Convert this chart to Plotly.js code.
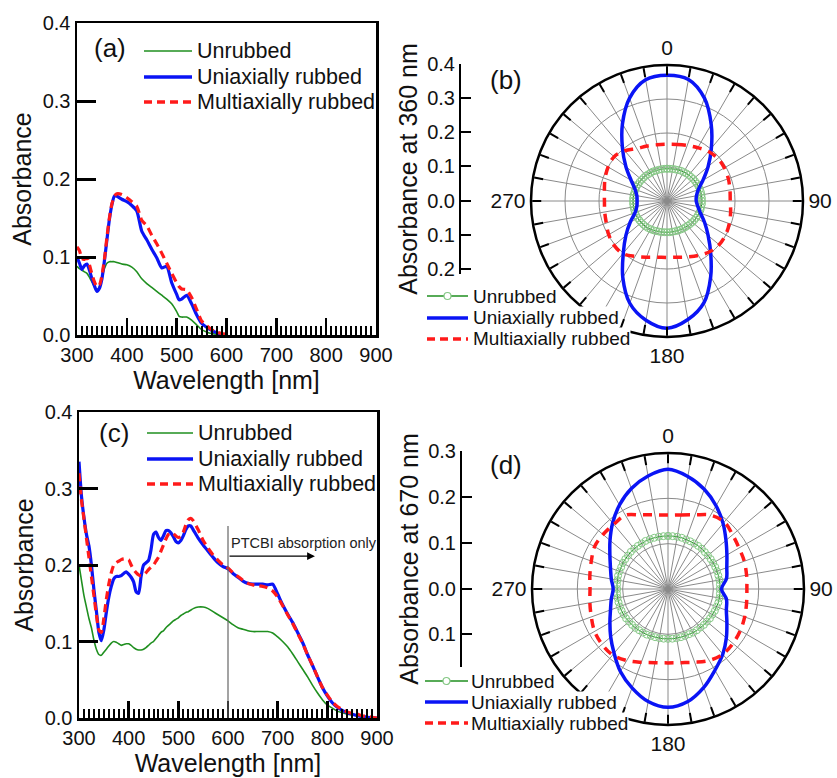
<!DOCTYPE html>
<html>
<head>
<meta charset="utf-8">
<script src="https://cdn.plot.ly/plotly-3.0.1.min.js"></script>
<style>html,body{margin:0;padding:0;background:#fff;}#chart{width:837px;height:778px;}</style>
</head>
<body>
<div id="chart"></div>
<script>
// ---------- Panel (a): absorbance spectra ----------
const waveA = [300,305,310,315,320,325,330,335,340,345,350,355,360,365,370,375,380,390,400,410,420,430,440,450,460,470,480,490,500,505,510,520,530,540,550,560,570,580,590,600];
const unrubbedA = [0.088,0.085,0.083,0.081,0.079,0.074,0.068,0.062,0.058,0.062,0.074,0.085,0.092,0.094,0.094,0.094,0.093,0.091,0.090,0.087,0.081,0.072,0.066,0.061,0.056,0.051,0.046,0.040,0.030,0.024,0.023,0.023,0.019,0.013,0.007,0.004,0.002,0.001,0.0005,0.0];
const uniaxialA = [0.100,0.092,0.084,0.089,0.091,0.083,0.072,0.063,0.056,0.060,0.072,0.095,0.122,0.148,0.167,0.178,0.178,0.174,0.171,0.166,0.159,0.133,0.122,0.110,0.099,0.086,0.088,0.067,0.052,0.045,0.046,0.051,0.040,0.026,0.015,0.010,0.006,0.003,0.001,0.0];
const multiaxialA = [0.113,0.108,0.098,0.097,0.099,0.090,0.078,0.068,0.062,0.064,0.076,0.097,0.125,0.150,0.168,0.178,0.181,0.180,0.176,0.171,0.165,0.147,0.140,0.128,0.117,0.105,0.092,0.079,0.067,0.062,0.059,0.058,0.048,0.033,0.018,0.012,0.007,0.004,0.002,0.001];

// ---------- Panel (c): absorbance spectra ----------
const waveC = [300,305,310,315,320,325,330,335,340,345,350,355,360,365,370,375,380,385,390,395,400,405,410,415,420,425,430,435,440,445,450,455,460,465,470,475,480,485,490,495,500,505,510,515,520,525,530,540,550,560,570,580,590,600,610,620,630,640,650,660,670,680,690,700,710,720,730,740,750,760,770,780,790,800,810,820,830,840,850,860,870,880,890,900];
const unrubbedC = [0.200,0.180,0.160,0.145,0.130,0.118,0.102,0.090,0.083,0.082,0.086,0.090,0.094,0.098,0.100,0.099,0.097,0.095,0.096,0.097,0.097,0.095,0.092,0.090,0.089,0.089,0.090,0.092,0.095,0.098,0.100,0.104,0.108,0.112,0.114,0.118,0.121,0.124,0.127,0.129,0.131,0.134,0.136,0.138,0.139,0.141,0.143,0.145,0.145,0.143,0.139,0.135,0.131,0.127,0.122,0.118,0.116,0.114,0.113,0.113,0.113,0.113,0.111,0.106,0.100,0.093,0.084,0.074,0.064,0.054,0.043,0.033,0.024,0.017,0.013,0.009,0.007,0.005,0.004,0.003,0.002,0.001,0.0005,0.0];
const uniaxialC = [0.335,0.290,0.262,0.240,0.225,0.200,0.168,0.140,0.112,0.101,0.115,0.138,0.158,0.172,0.182,0.185,0.185,0.186,0.189,0.191,0.188,0.184,0.178,0.165,0.163,0.185,0.200,0.203,0.206,0.220,0.240,0.243,0.236,0.232,0.238,0.245,0.245,0.242,0.237,0.231,0.229,0.232,0.238,0.246,0.251,0.251,0.246,0.235,0.226,0.218,0.210,0.203,0.198,0.195,0.189,0.184,0.179,0.176,0.175,0.175,0.175,0.174,0.175,0.162,0.148,0.136,0.125,0.112,0.099,0.083,0.069,0.054,0.040,0.029,0.020,0.014,0.010,0.007,0.005,0.003,0.002,0.001,0.0005,0.0];
const multiaxialC = [0.320,0.285,0.260,0.235,0.210,0.185,0.160,0.135,0.115,0.112,0.130,0.155,0.175,0.190,0.200,0.203,0.205,0.207,0.208,0.208,0.207,0.200,0.194,0.190,0.187,0.186,0.187,0.190,0.194,0.197,0.200,0.205,0.210,0.218,0.226,0.234,0.240,0.242,0.241,0.238,0.236,0.237,0.243,0.252,0.259,0.261,0.258,0.246,0.232,0.222,0.213,0.206,0.200,0.196,0.190,0.185,0.180,0.176,0.174,0.173,0.172,0.170,0.166,0.158,0.147,0.135,0.124,0.111,0.098,0.083,0.069,0.054,0.040,0.030,0.021,0.015,0.011,0.008,0.006,0.005,0.003,0.002,0.001,0.0];

// ---------- Polar panels (b) and (d) ----------
const angles10 = [0,10,20,30,40,50,60,70,80,90,100,110,120,130,140,150,160,170,180,190,200,210,220,230,240,250,260,270,280,290,300,310,320,330,340,350,360];
const angles5 = [0,5,10,15,20,25,30,35,40,45,50,55,60,65,70,75,80,85,90,95,100,105,110,115,120,125,130,135,140,145,150,155,160,165,170,175,180,185,190,195,200,205,210,215,220,225,230,235,240,245,250,255,260,265,270,275,280,285,290,295,300,305,310,315,320,325,330,335,340,345,350,355,360];

const unrubbedB = [0.095,0.095,0.096,0.096,0.097,0.098,0.098,0.099,0.100,0.100,0.101,0.101,0.102,0.102,0.103,0.103,0.103,0.103,0.103,0.103,0.102,0.102,0.101,0.100,0.099,0.098,0.097,0.096,0.095,0.094,0.094,0.093,0.093,0.092,0.092,0.092,0.092,0.092,0.093,0.093,0.094,0.095,0.096,0.097,0.098,0.098,0.099,0.099,0.100,0.100,0.100,0.100,0.100,0.100,0.100,0.100,0.100,0.099,0.099,0.099,0.098,0.098,0.097,0.097,0.097,0.096,0.096,0.096,0.095,0.095,0.095,0.095,0.095];
const uniaxialB = [0.370,0.363,0.322,0.260,0.203,0.158,0.122,0.098,0.088,0.086,0.092,0.105,0.128,0.158,0.200,0.257,0.318,0.354,0.374,0.356,0.320,0.260,0.200,0.158,0.125,0.100,0.090,0.088,0.090,0.100,0.122,0.158,0.204,0.262,0.322,0.362,0.370];
const multiaxialB = [0.167,0.169,0.174,0.181,0.190,0.195,0.195,0.192,0.188,0.186,0.190,0.195,0.199,0.200,0.195,0.185,0.175,0.168,0.166,0.168,0.176,0.188,0.202,0.203,0.198,0.190,0.186,0.184,0.187,0.194,0.200,0.203,0.193,0.178,0.172,0.168,0.167];

const unrubbedD = [0.117,0.117,0.117,0.117,0.116,0.116,0.116,0.116,0.116,0.115,0.115,0.115,0.115,0.115,0.115,0.115,0.115,0.115,0.114,0.115,0.115,0.115,0.114,0.114,0.113,0.113,0.112,0.112,0.111,0.111,0.111,0.110,0.110,0.110,0.110,0.110,0.110,0.110,0.110,0.110,0.110,0.111,0.111,0.111,0.112,0.112,0.112,0.113,0.113,0.113,0.113,0.113,0.113,0.113,0.112,0.113,0.113,0.114,0.114,0.114,0.115,0.115,0.115,0.116,0.116,0.116,0.116,0.117,0.117,0.117,0.117,0.117,0.117];
const uniaxialD = [0.264,0.252,0.234,0.212,0.189,0.167,0.150,0.138,0.131,0.118,0.131,0.137,0.150,0.168,0.188,0.207,0.231,0.252,0.261,0.252,0.232,0.210,0.185,0.165,0.148,0.135,0.127,0.121,0.127,0.135,0.148,0.167,0.190,0.214,0.236,0.253,0.264];
const multiaxialD = [0.163,0.166,0.174,0.188,0.193,0.186,0.181,0.179,0.176,0.174,0.176,0.180,0.184,0.187,0.188,0.182,0.172,0.165,0.163,0.165,0.172,0.182,0.190,0.190,0.187,0.180,0.175,0.172,0.175,0.180,0.187,0.187,0.186,0.188,0.174,0.166,0.163];

// ---------- Labels ----------
const seriesNames = ['Unrubbed','Uniaxially rubbed','Multiaxially rubbed'];
const angTickVals = [0,10,20,30,40,50,60,70,80,90,100,110,120,130,140,150,160,170,180,190,200,210,220,230,240,250,260,270,280,290,300,310,320,330,340,350];
const angTickText = ['0','','','','','','','','','90','','','','','','','','','180','','','','','','','','','270','','','','','','','','',''];
const radialTickValsB = [-0.2,-0.1,0,0.1,0.2,0.3,0.4];
const radialTickTextB = ['0.2','0.1','0.0','0.1','0.2','0.3','0.4'];
const radialTickValsD = [-0.1,0,0.1,0.2,0.3];
const radialTickTextD = ['0.1','0.0','0.1','0.2','0.3'];
const cutoffWave = 600;
const arrowEndWave = 775;
const arrowLevel = 0.2115;
const cutoffTop = 0.251;

// ---------- Styling ----------
const FONT = 'Liberation Sans, Arial, sans-serif';
const GREEN = '#1f8f1f', BLUE = '#0a14f5', RED = '#ff1a1a', LIGHTGREEN = '#86c886';
const W = 837, H = 778;
const px = v => v / W;
const py = v => 1 - v / H;

const traces = [];
function spectra(x, g, b, r, xa, ya) {
  traces.push({type:'scatter', mode:'lines', x:x, y:g, name:seriesNames[0], xaxis:xa, yaxis:ya, showlegend:false,
    line:{color:GREEN, width:1.6, shape:'spline', smoothing:0.6}});
  traces.push({type:'scatter', mode:'lines', x:x, y:b, name:seriesNames[1], xaxis:xa, yaxis:ya, showlegend:false,
    line:{color:BLUE, width:3.2, shape:'spline', smoothing:0.6}});
  traces.push({type:'scatter', mode:'lines', x:x, y:r, name:seriesNames[2], xaxis:xa, yaxis:ya, showlegend:false,
    line:{color:RED, width:3.2, dash:'8px,5px', shape:'spline', smoothing:0.6}});
}
spectra(waveA, unrubbedA, uniaxialA, multiaxialA, 'x', 'y');
spectra(waveC, unrubbedC, uniaxialC, multiaxialC, 'x2', 'y2');

function polarSet(g, b, r, sub) {
  traces.push({type:'scatterpolar', mode:'lines+markers', theta:angles5, r:g, name:seriesNames[0], subplot:sub, showlegend:false,
    line:{color:GREEN, width:1}, marker:{symbol:'circle-open', size:7, color:LIGHTGREEN, line:{width:1, color:LIGHTGREEN}}});
  traces.push({type:'scatterpolar', mode:'lines', theta:angles10, r:b, name:seriesNames[1], subplot:sub, showlegend:false,
    line:{color:BLUE, width:3.5, shape:'spline'}});
  traces.push({type:'scatterpolar', mode:'lines', theta:angles10, r:r, name:seriesNames[2], subplot:sub, showlegend:false,
    line:{color:RED, width:3.5, dash:'9px,7px', shape:'spline'}});
}
polarSet(unrubbedB, uniaxialB, multiaxialB, 'polar');
polarSet(unrubbedD, uniaxialD, multiaxialD, 'polar2');

// empty carriers so the radial scale axes are drawn
traces.push({type:'scatter', x:[], y:[], xaxis:'x3', yaxis:'y3', showlegend:false});
traces.push({type:'scatter', x:[], y:[], xaxis:'x4', yaxis:'y4', showlegend:false});

function specX(domain, anchor) {
  return {domain:domain, anchor:anchor, range:[300,900], tickvals:[300,400,500,600,700,800,900],
    ticks:'inside', ticklen:17, tickwidth:2.5, tickcolor:'#000',
    minor:{dtick:10, ticks:'inside', ticklen:9, tickwidth:2, tickcolor:'#000', showgrid:false},
    showline:true, linewidth:2.5, linecolor:'#000', mirror:true, showgrid:false, zeroline:false,
    tickfont:{family:FONT, size:20, color:'#111'},
    title:{text:'Wavelength [nm]', font:{family:FONT, size:25, color:'#111'}, standoff:2}};
}
function specY(domain, anchor) {
  return {domain:domain, anchor:anchor, range:[0,0.4], tickvals:[0,0.1,0.2,0.3,0.4], tickformat:'.1f',
    ticks:'inside', ticklen:19, tickwidth:3, tickcolor:'#000',
    showline:true, linewidth:2.5, linecolor:'#000', mirror:true, showgrid:false, zeroline:false,
    tickfont:{family:FONT, size:20, color:'#111'},
    title:{text:'Absorbance', font:{family:FONT, size:25, color:'#111'}, standoff:4}};
}
function polarLayout(dx, dy, rmax, rgrid) {
  return {domain:{x:dx, y:dy}, bgcolor:'#fff',
    radialaxis:{range:[0,rmax], tickvals:rgrid, showticklabels:false, ticks:'', showline:false,
      gridcolor:'#8a8a8a', gridwidth:1},
    angularaxis:{rotation:90, direction:'clockwise', tickvals:angTickVals, ticktext:angTickText,
      ticks:'inside', ticklen:9, tickwidth:2, tickcolor:'#000', showline:true, linecolor:'#000', linewidth:2.5,
      gridcolor:'#8a8a8a', gridwidth:1, tickfont:{family:FONT, size:21, color:'#111'}}};
}
function scaleAxis(domain, range, vals, text, title, anchor) {
  return {domain:domain, anchor:anchor, range:range, tickvals:vals, ticktext:text,
    ticks:'inside', ticklen:10, tickwidth:2, tickcolor:'#000', showline:true, linewidth:2, linecolor:'#000',
    showgrid:false, zeroline:false, tickfont:{family:FONT, size:20, color:'#111'},
    title:{text:title, font:{family:FONT, size:25, color:'#111'}, standoff:2}};
}

// ---------- Hand-placed legend keys (pixel positions) ----------
const shapes = [
  {type:'line', xref:'x2', yref:'y2', x0:cutoffWave, x1:cutoffWave, y0:0, y1:cutoffTop, line:{color:'#666', width:1.2}}
];
const annotations = [];
function legendKey(x0, x1, textX, rows, size, withMarker, bg) {
  const styles = [
    {color:GREEN, width:withMarker ? 1.5 : 1.6},
    {color:BLUE, width:3.5},
    {color:RED, width:3.5, dash:'8px,5px'}
  ];
  rows.forEach((row, i) => {
    shapes.push({type:'line', xref:'paper', yref:'paper', x0:px(x0), x1:px(x1), y0:py(row), y1:py(row), line:styles[i], layer:'above'});
    annotations.push({xref:'paper', yref:'paper', x:px(textX), y:py(row), text:seriesNames[i], showarrow:false,
      xanchor:'left', yanchor:'middle', borderpad:0, bgcolor:bg, font:{family:FONT, size:size, color:'#111'}});
  });
  if (withMarker) {
    const cx = (x0 + x1) / 2, r = 3.5;
    shapes.push({type:'circle', xref:'paper', yref:'paper', x0:px(cx - r), x1:px(cx + r), y0:py(rows[0] + r), y1:py(rows[0] - r),
      line:{color:LIGHTGREEN, width:1.2}, fillcolor:'#fff', layer:'above'});
  }
}
legendKey(144, 192, 196, [51, 77, 102], 21.5, false, 'rgba(0,0,0,0)');
legendKey(147, 193, 197, [433, 459, 484], 21.5, false, 'rgba(0,0,0,0)');
legendKey(427, 468, 472, [296, 318, 339], 19, true, '#fff');
legendKey(425, 468, 470, [681, 702, 723], 19, true, '#fff');

annotations.push(
  {xref:'x', yref:'y', x:330, y:0.368, text:'(a)', showarrow:false, xanchor:'left', yanchor:'middle', font:{family:FONT, size:26, color:'#111'}},
  {xref:'x2', yref:'y2', x:337, y:0.372, text:'(c)', showarrow:false, xanchor:'left', yanchor:'middle', font:{family:FONT, size:26, color:'#111'}},
  {xref:'paper', yref:'paper', x:px(488), y:py(80), text:'(b)', showarrow:false, xanchor:'left', yanchor:'middle', font:{family:FONT, size:26, color:'#111'}},
  {xref:'paper', yref:'paper', x:px(488), y:py(465), text:'(d)', showarrow:false, xanchor:'left', yanchor:'middle', font:{family:FONT, size:26, color:'#111'}},
  {xref:'x2', yref:'y2', x:cutoffWave + 2, y:0.229, text:'PTCBI absorption only', showarrow:false, xanchor:'left', yanchor:'middle', font:{family:FONT, size:14.5, color:'#222'}},
  {xref:'x2', yref:'y2', axref:'x2', ayref:'y2', x:arrowEndWave, y:arrowLevel, ax:cutoffWave, ay:arrowLevel, text:'', showarrow:true, arrowhead:2, arrowsize:1.3, arrowwidth:1.2, arrowcolor:'#000'}
);

const layout = {
  width:W, height:H, margin:{l:0, r:0, t:0, b:0}, paper_bgcolor:'#fff', plot_bgcolor:'#fff',
  showlegend:false, hovermode:false, font:{family:FONT, color:'#111'},
  xaxis: specX([px(77), px(376)], 'y'),
  yaxis: specY([py(335), py(23)], 'x'),
  xaxis2: specX([px(79), px(377)], 'y2'),
  yaxis2: specY([py(718), py(412)], 'x2'),
  xaxis3: {domain:[px(461), px(462)], anchor:'y3', visible:false},
  yaxis3: scaleAxis([py(274), py(64)], [-0.215, 0.4], radialTickValsB, radialTickTextB, 'Absorbance at 360 nm', 'x3'),
  xaxis4: {domain:[px(462), px(463)], anchor:'y4', visible:false},
  yaxis4: scaleAxis([py(667), py(451)], [-0.171, 0.3], radialTickValsD, radialTickTextD, 'Absorbance at 670 nm', 'x4'),
  polar: polarLayout([px(531), px(803)], [py(337), py(65)], 0.4, [0.1,0.2,0.3]),
  polar2: polarLayout([px(532), px(804)], [py(725), py(453)], 0.3, [0.1,0.2]),
  shapes: shapes,
  annotations: annotations
};

Plotly.newPlot('chart', traces, layout, {staticPlot:true, displayModeBar:false});
</script>
</body>
</html>
